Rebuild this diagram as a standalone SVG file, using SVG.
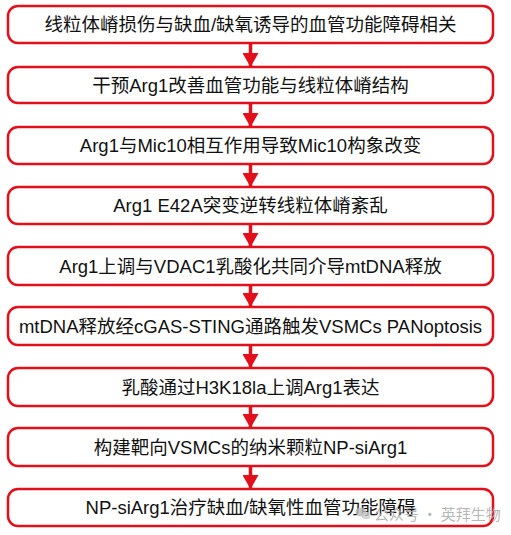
<svg xmlns="http://www.w3.org/2000/svg" width="511" height="535" viewBox="0 0 511 535">
<defs>
<style>
.box{fill:#fff;stroke:#e3101b;stroke-width:2.5}
.t{font-family:"Liberation Sans","Noto Sans CJK SC",sans-serif;font-size:18.5px;fill:#111;text-anchor:middle}
.ln{stroke:#e3101b;stroke-width:3.5;fill:none}
.wm{font-family:"Noto Sans CJK SC",sans-serif;font-size:15px;fill:#aaa;fill-opacity:0.85}
</style>
<marker id="ah" markerWidth="14" markerHeight="16" refX="14" refY="8" orient="auto" markerUnits="userSpaceOnUse" viewBox="0 0 14 16">
<path d="M0,0 L14,8 L0,16 Z" fill="#e3101b"/>
</marker>
</defs>
<rect width="511" height="535" fill="#fff"/>
<g id="connectors">
<line class="ln" x1="250.5" y1="43" x2="250.5" y2="67" marker-end="url(#ah)"/>
<line class="ln" x1="250.5" y1="103" x2="250.5" y2="127" marker-end="url(#ah)"/>
<line class="ln" x1="250.5" y1="164" x2="250.5" y2="187" marker-end="url(#ah)"/>
<line class="ln" x1="250.5" y1="224" x2="250.5" y2="247" marker-end="url(#ah)"/>
<line class="ln" x1="250.5" y1="285" x2="250.5" y2="307" marker-end="url(#ah)"/>
<line class="ln" x1="250.5" y1="345" x2="250.5" y2="368" marker-end="url(#ah)"/>
<line class="ln" x1="250.5" y1="406" x2="250.5" y2="428" marker-end="url(#ah)"/>
<line class="ln" x1="250.5" y1="466" x2="250.5" y2="489" marker-end="url(#ah)"/>
</g>
<g id="n1"><rect class="box" x="8" y="6" width="485" height="37" rx="10"/><text class="t" x="250.5" y="31">线粒体嵴损伤与缺血/缺氧诱导的血管功能障碍相关</text></g>
<g id="n2"><rect class="box" x="8" y="67" width="485" height="36" rx="10"/><text class="t" x="250.5" y="91.5">干预Arg1改善血管功能与线粒体嵴结构</text></g>
<g id="n3"><rect class="box" x="8" y="127" width="485" height="37" rx="10"/><text class="t" x="250.5" y="152">Arg1与Mic10相互作用导致Mic10构象改变</text></g>
<g id="n4"><rect class="box" x="8" y="187" width="485" height="37" rx="10"/><text class="t" x="250.5" y="212">Arg1 E42A突变逆转线粒体嵴紊乱</text></g>
<g id="n5"><rect class="box" x="8" y="247" width="485" height="38" rx="10"/><text class="t" x="250.5" y="272.5">Arg1上调与VDAC1乳酸化共同介导mtDNA释放</text></g>
<g id="n6"><rect class="box" x="8" y="307" width="485" height="38" rx="10"/><text class="t" x="250.5" y="332.5">mtDNA释放经cGAS-STING通路触发VSMCs PANoptosis</text></g>
<g id="n7"><rect class="box" x="8" y="368" width="485" height="38" rx="10"/><text class="t" x="250.5" y="393.5">乳酸通过H3K18la上调Arg1表达</text></g>
<g id="n8"><rect class="box" x="8" y="428" width="485" height="38" rx="10"/><text class="t" x="250.5" y="453.5">构建靶向VSMCs的纳米颗粒NP-siArg1</text></g>
<g id="n9"><rect class="box" x="8" y="489" width="485" height="37" rx="10"/><text class="t" x="250.5" y="514">NP-siArg1治疗缺血/缺氧性血管功能障碍</text></g>
<g id="watermark">
<ellipse cx="361" cy="512" rx="5.5" ry="4.5" fill="#bbb" fill-opacity="0.8"/>
<ellipse cx="366" cy="515.5" rx="4.5" ry="3.8" fill="#ccc" fill-opacity="0.8"/>
<text class="wm" x="374" y="520">公众号 · 英拜生物</text>
</g>
</svg>
